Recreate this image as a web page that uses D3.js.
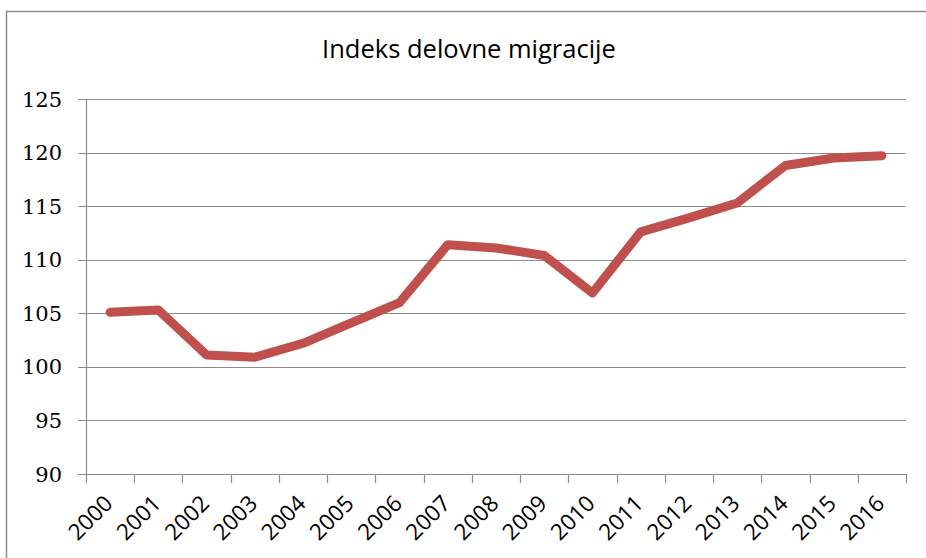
<!DOCTYPE html>
<html>
<head>
<meta charset="utf-8">
<script src="https://cdn.jsdelivr.net/npm/d3@7"></script>
<style>
  body { margin: 0; background: #fff; }
</style>
</head>
<body>
<script>
// data
var years = ["2000", "2001", "2002", "2003", "2004", "2005", "2006", "2007", "2008",
             "2009", "2010", "2011", "2012", "2013", "2014", "2015", "2016"];
var index = [105.1, 105.3, 101.1, 100.9, 102.2, 104.1, 106.0, 111.4, 111.1,
             110.4, 106.9, 112.6, 113.9, 115.3, 118.8, 119.5, 119.7];
var yTicks = [90, 95, 100, 105, 110, 115, 120, 125];

var width = 926, height = 558;
var margin = { top: 99, right: 20, bottom: 84, left: 86 };

var svg = d3.select("body").append("svg")
    .attr("width", width)
    .attr("height", height);

// chart frame
svg.append("rect")
  .attr("x", 6.5).attr("y", 11.5)
  .attr("width", 940).attr("height", 600)
  .attr("fill", "none")
  .attr("stroke", "#8c8c8c")
  .attr("stroke-width", 1.5);

svg.append("text")
  .attr("x", 469).attr("y", 58)
  .attr("text-anchor", "middle")
  .style("font-family", "'Open Sans', sans-serif")
  .style("font-size", "25.5px")
  .style("fill", "#000")
  .text("Indeks delovne migracije");

var x = d3.scaleBand()
  .domain(years)
  .range([margin.left, width - margin.right]);

var y = d3.scaleLinear()
  .domain([90, 125])
  .range([height - margin.bottom, margin.top]);

// gridlines
svg.append("g")
  .selectAll("line")
  .data(yTicks)
  .enter().append("line")
  .attr("x1", margin.left - 8)
  .attr("x2", width - margin.right)
  .attr("y1", function(d) { return Math.round(y(d)) + 0.5; })
  .attr("y2", function(d) { return Math.round(y(d)) + 0.5; })
  .attr("stroke", "#8c8c8c")
  .attr("stroke-width", 1.2);

// y axis line
svg.append("line")
  .attr("x1", margin.left + 0.5).attr("x2", margin.left + 0.5)
  .attr("y1", y(125)).attr("y2", y(90))
  .attr("stroke", "#8c8c8c")
  .attr("stroke-width", 1.2);

svg.append("g")
  .selectAll("text")
  .data(yTicks)
  .enter().append("text")
  .attr("x", 62)
  .attr("y", function(d) { return y(d); })
  .attr("dy", "0.36em")
  .attr("text-anchor", "end")
  .style("font-family", "'DejaVu Serif', serif")
  .style("font-size", "21px")
  .style("fill", "#000")
  .text(function(d) { return d; });

// x axis ticks at band edges
var edges = years.map(function(d) { return x(d); }).concat([x.range()[1]]);
svg.append("g")
  .selectAll("line")
  .data(edges)
  .enter().append("line")
  .attr("x1", function(d) { return Math.round(d) + 0.5; })
  .attr("x2", function(d) { return Math.round(d) + 0.5; })
  .attr("y1", y(90))
  .attr("y2", y(90) + 9)
  .attr("stroke", "#8c8c8c")
  .attr("stroke-width", 1.2);

svg.append("g")
  .selectAll("text")
  .data(years)
  .enter().append("text")
  .attr("transform", function(d) {
    return "translate(" + (x(d) + x.bandwidth() / 2 + 4) + "," + (y(90) + 31) + ") rotate(-45)";
  })
  .attr("text-anchor", "end")
  .style("font-family", "'Open Sans', sans-serif")
  .style("font-size", "22.5px")
  .style("fill", "#000")
  .text(function(d) { return d; });

// the line
var line = d3.line()
  .x(function(d, i) { return x(years[i]) + x.bandwidth() / 2; })
  .y(function(d) { return y(d); });

svg.append("path")
  .datum(index)
  .attr("d", line)
  .attr("fill", "none")
  .attr("stroke", "#c0504d")
  .attr("stroke-width", 9)
  .attr("stroke-linejoin", "round")
  .attr("stroke-linecap", "round");
</script>
</body>
</html>
